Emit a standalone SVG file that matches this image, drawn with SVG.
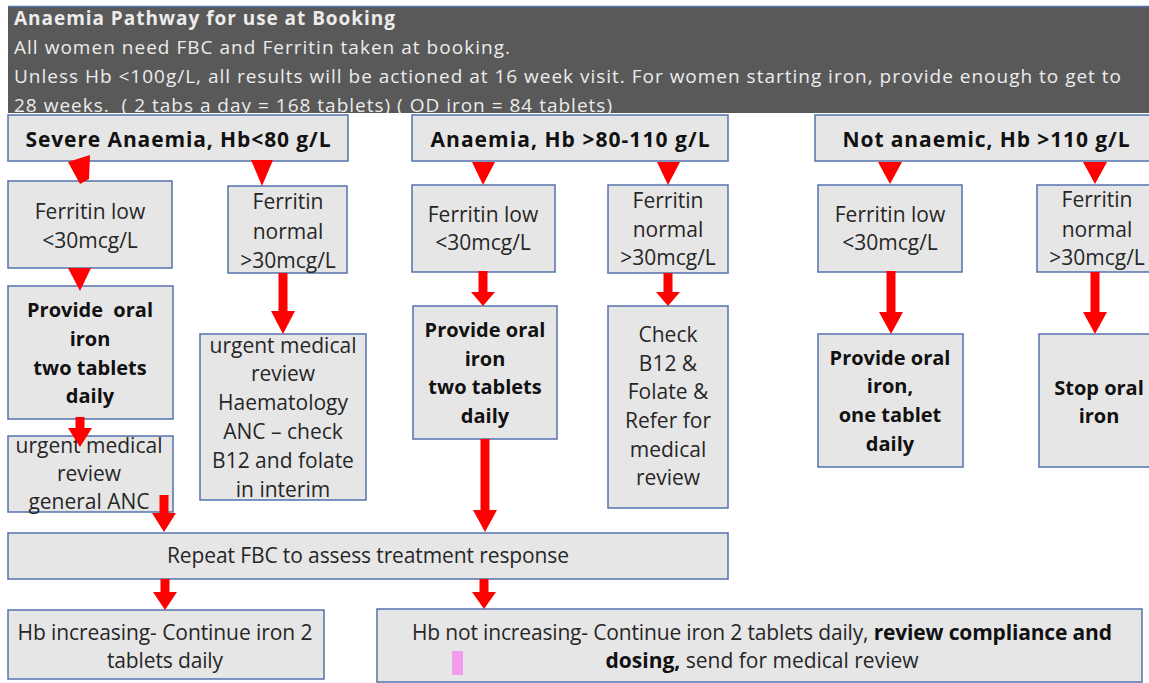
<svg xmlns="http://www.w3.org/2000/svg" width="1149" height="683" viewBox="0 0 1149 683">
<style>
.box{fill:#e7e6e6;stroke:#5572ad;stroke-width:1.5}
.t{font-family:"Open Sans",Lato,sans-serif;font-size:21px;fill:#262626;text-anchor:middle}
.b{font-weight:bold;fill:#111}
.cb{font-size:20px}
.h{font-family:"Open Sans",Lato,sans-serif;font-size:19px;fill:#ececec}
.arr{fill:#ff0000}
</style>
<defs>
<clipPath id="hc"><rect x="8" y="6" width="1141" height="107"/></clipPath>
</defs>
<rect width="1149" height="683" fill="#ffffff"/>
<g id="header">
<rect x="8" y="6" width="1141" height="107" fill="#595959"/>
<line x1="8" y1="6.5" x2="1149" y2="6.5" stroke="#5572ad" stroke-width="1.5"/>
<g clip-path="url(#hc)">
<text class="h" x="14" y="25" font-weight="bold" font-size="20" fill="#ffffff" textLength="381">Anaemia Pathway for use at Booking</text>
<text class="h" x="14" y="54" textLength="496">All women need FBC and Ferritin taken at booking.</text>
<text class="h" x="14" y="83" textLength="1107">Unless Hb &lt;100g/L, all results will be actioned at 16 week visit. For women starting iron, provide enough to get to</text>
<text class="h" x="14" y="112" textLength="598" xml:space="preserve">28 weeks.  ( 2 tabs a day = 168 tablets) ( OD iron = 84 tablets)</text>
</g>
</g>
<g id="severe">
<rect class="box" x="8" y="115" width="340" height="46"/>
<text class="t b" x="178" y="147" font-size="22" textLength="305">Severe Anaemia, Hb&lt;80 g/L</text>
</g>
<g id="anaemia">
<rect class="box" x="412" y="115" width="316" height="46"/>
<text class="t b" x="570" y="147" font-size="22" textLength="279">Anaemia, Hb &gt;80-110 g/L</text>
</g>
<g id="notanaemic">
<rect class="box" x="815" y="115" width="340" height="46"/>
<text class="t b" x="986" y="147" font-size="22" textLength="287">Not anaemic, Hb &gt;110 g/L</text>
</g>
<g id="sev-low">
<rect class="box" x="8" y="181" width="164" height="87"/>
<text class="t" x="90" y="219">Ferritin low</text>
<text class="t" x="90" y="248">&lt;30mcg/L</text>
</g>
<g id="sev-normal">
<rect class="box" x="228" y="186" width="119" height="87"/>
<text class="t" x="288" y="209">Ferritin</text>
<text class="t" x="288" y="239">normal</text>
<text class="t" x="288" y="268">&gt;30mcg/L</text>
</g>
<g id="an-low">
<rect class="box" x="412" y="185" width="143" height="87"/>
<text class="t" x="483" y="222">Ferritin low</text>
<text class="t" x="483" y="250">&lt;30mcg/L</text>
</g>
<g id="an-normal">
<rect class="box" x="608" y="185" width="120" height="88"/>
<text class="t" x="668" y="208">Ferritin</text>
<text class="t" x="668" y="237">normal</text>
<text class="t" x="668" y="265">&gt;30mcg/L</text>
</g>
<g id="not-low">
<rect class="box" x="818" y="185" width="144" height="87"/>
<text class="t" x="890" y="222">Ferritin low</text>
<text class="t" x="890" y="250">&lt;30mcg/L</text>
</g>
<g id="not-normal">
<rect class="box" x="1037" y="185" width="120" height="87"/>
<text class="t" x="1097" y="207">Ferritin</text>
<text class="t" x="1097" y="237">normal</text>
<text class="t" x="1097" y="265">&gt;30mcg/L</text>
</g>
<g id="sev-provide">
<rect class="box" x="8" y="286" width="165" height="133"/>
<text class="t b cb" x="90" y="317" xml:space="preserve">Provide  oral</text>
<text class="t b cb" x="90" y="346">iron</text>
<text class="t b cb" x="90" y="375">two tablets</text>
<text class="t b cb" x="90" y="403">daily</text>
</g>
<g id="sev-urgent-haem">
<rect class="box" x="200" y="334" width="166" height="166"/>
<text class="t" x="283" y="353">urgent medical</text>
<text class="t" x="283" y="381">review</text>
<text class="t" x="283" y="410">Haematology</text>
<text class="t" x="283" y="439">ANC – check</text>
<text class="t" x="283" y="468">B12 and folate</text>
<text class="t" x="283" y="497">in interim</text>
</g>
<g id="sev-urgent-gen">
<rect class="box" x="8" y="436" width="165" height="76"/>
<text class="t" x="89" y="453">urgent medical</text>
<text class="t" x="89" y="481">review</text>
<text class="t" x="89" y="509">general ANC</text>
</g>
<g id="an-provide">
<rect class="box" x="413" y="306" width="144" height="133"/>
<text class="t b cb" x="485" y="337">Provide oral</text>
<text class="t b cb" x="485" y="366">iron</text>
<text class="t b cb" x="485" y="394">two tablets</text>
<text class="t b cb" x="485" y="423">daily</text>
</g>
<g id="an-check">
<rect class="box" x="608" y="306" width="120" height="202"/>
<text class="t" x="668" y="342">Check</text>
<text class="t" x="668" y="371">B12 &amp;</text>
<text class="t" x="668" y="399">Folate &amp;</text>
<text class="t" x="668" y="428">Refer for</text>
<text class="t" x="668" y="457">medical</text>
<text class="t" x="668" y="485">review</text>
</g>
<g id="not-provide">
<rect class="box" x="818" y="334" width="145" height="133"/>
<text class="t b cb" x="890" y="365">Provide oral</text>
<text class="t b cb" x="890" y="393">iron,</text>
<text class="t b cb" x="890" y="422">one tablet</text>
<text class="t b cb" x="890" y="451">daily</text>
</g>
<g id="not-stop">
<rect class="box" x="1039" y="334" width="120" height="133"/>
<text class="t b cb" x="1099" y="395">Stop oral</text>
<text class="t b cb" x="1099" y="423">iron</text>
</g>
<g id="repeat">
<rect class="box" x="8" y="533" width="720" height="46"/>
<text class="t" x="368" y="563" textLength="402">Repeat FBC to assess treatment response</text>
</g>
<g id="hb-inc">
<rect class="box" x="8" y="610" width="316" height="69"/>
<text class="t" x="165" y="640" textLength="295">Hb increasing- Continue iron 2</text>
<text class="t" x="165" y="668" textLength="116">tablets daily</text>
</g>
<g id="hb-not">
<rect class="box" x="377" y="609" width="765" height="73"/>
<text class="t" x="762" y="640" textLength="700">Hb not increasing- Continue iron 2 tablets daily, <tspan class="b">review compliance and</tspan></text>
<text class="t" x="762" y="668" textLength="313"><tspan class="b">dosing,</tspan> send for medical review</text>
<rect x="452" y="651" width="11" height="24" fill="#f49cec"/>
</g>
<g id="connectors">
<polygon class="arr" points="68,162 90,155 89,179 80,184"/>
<polygon class="arr" points="251,160 273,160 262,186"/>
<polygon class="arr" points="472,162 495,162 483,185"/>
<polygon class="arr" points="657,162 680,162 668,185"/>
<polygon class="arr" points="878,162 902,162 890,184"/>
<polygon class="arr" points="1083,162 1107,162 1095,184"/>
<polygon class="arr" points="68,268 91,268 80,291"/>
<polygon class="arr" points="278.5,273 287.5,273 287.5,311 295,311 283,334 271,311 278.5,311"/>
<polygon class="arr" points="478.5,271 487.5,271 487.5,292 495,292 483,306 471,292 478.5,292"/>
<polygon class="arr" points="663.5,273 672.5,273 672.5,292 680,292 668,306 656,292 663.5,292"/>
<polygon class="arr" points="886.5,271 895.5,271 895.5,312 903,312 891,334 879,312 886.5,312"/>
<polygon class="arr" points="1090.5,272 1099.5,272 1099.5,312 1107,312 1095,334 1083,312 1090.5,312"/>
<polygon class="arr" points="75.5,417 84.5,417 84.5,428 92,428 80,447 68,428 75.5,428"/>
<polygon class="arr" points="159.5,495 168.5,495 168.5,513 176,513 164,532 152,513 159.5,513"/>
<polygon class="arr" points="480.5,439 489.5,439 489.5,510 497,510 485,532 473,510 480.5,510"/>
<polygon class="arr" points="160.5,579 169.5,579 169.5,592 177,592 165,610 153,592 160.5,592"/>
<polygon class="arr" points="479.5,579 488.5,579 488.5,592 496,592 484,609 472,592 479.5,592"/>
</g>
</svg>
